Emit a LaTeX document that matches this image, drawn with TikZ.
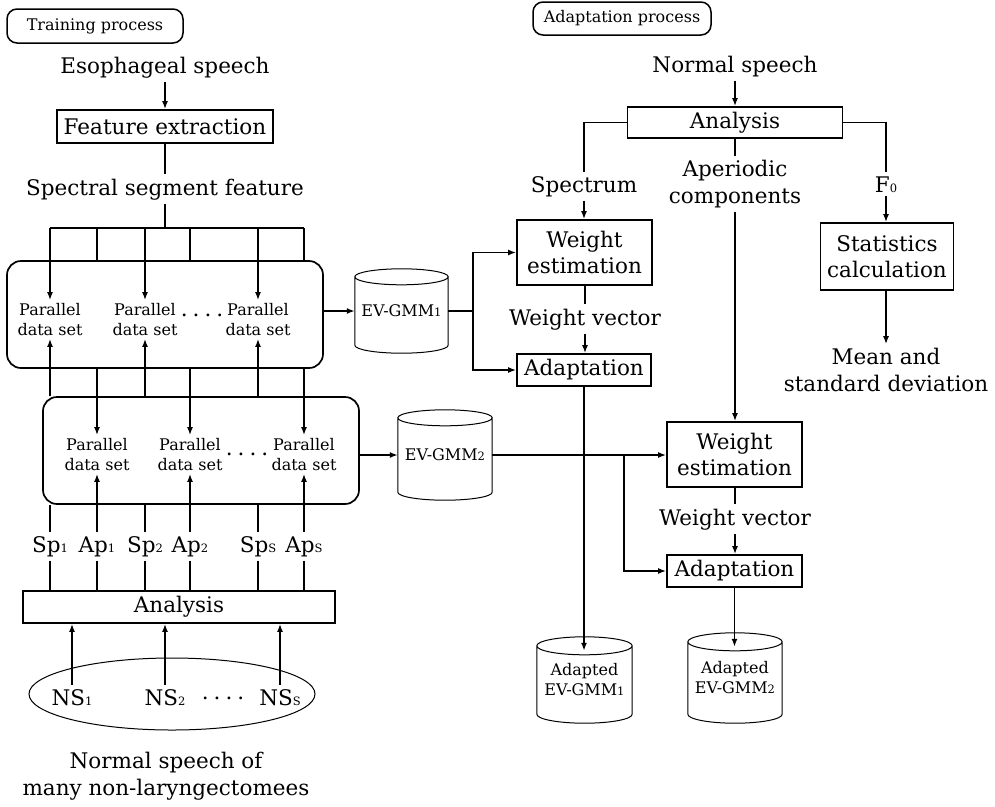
\documentclass[tikz,border=0pt]{standalone}
\usepackage{fontspec}
\setmainfont{DejaVu Serif}
\usetikzlibrary{arrows.meta,calc,shapes.geometric}
\newcommand\sbs[1]{{\fontsize{11.5}{11.5}\selectfont #1}}
\newcommand\bigf{\fontsize{21.5}{26.5}\selectfont}
\newcommand\smallf{\fontsize{16}{20}\selectfont}
\newcommand\drawcyl[2]{\draw[cyl] let \p1=(#1.north west), \p2=(#1.south east), \n1={(\x2-\x1)/2} in
  (\x1,\y1-#2) -- (\x1,\y2+#2) arc[start angle=180,end angle=360,x radius=\n1,y radius=#2] -- (\x2,\y1-#2)
  (\x1+\n1,\y1-#2) ellipse[x radius=\n1,y radius=#2];}
\begin{document}
\begin{tikzpicture}[x=1pt,y=1pt,
  box/.style={draw,line width=1.7pt,inner sep=0pt,font=\bigf,align=center},
  rbox/.style={draw,line width=1.7pt,rounded corners=14pt,inner sep=0pt},
  tag/.style={draw,line width=1.5pt,rounded corners=10pt,inner sep=0pt,font=\smallf},
  lbl/.style={inner xsep=2pt,inner ysep=4pt,font=\bigf,align=center},
  sml/.style={inner xsep=1pt,inner ysep=3pt,font=\smallf,align=center},
  cylnode/.style={inner sep=0pt,font=\smallf,align=center},
  cyl/.style={line width=1pt},
  ln/.style={line width=1.6pt},
  arr/.style={line width=1.6pt,-{Latex[length=8pt,width=6pt]}}
]
\useasboundingbox (0,0) rectangle (995,-806);

% ---------- Training side ----------
\node[tag,minimum width=176pt,minimum height=34pt] (tp) at (95,-26) {Training process};
\node[lbl,anchor=base] (es) at (165,-73) {Esophageal speech};
\node[box,minimum width=216pt,minimum height=33pt] (fe) at (165,-126.5) {Feature extraction};
\node[lbl,anchor=base] (ssf) at (165,-195) {Spectral segment feature};
\coordinate (bus) at (165,-228);

\node[rbox,minimum width=316pt,minimum height=107pt] (b1) at (165,-314.5) {};
\node[rbox,minimum width=316pt,minimum height=107pt] (b2) at (201,-450.5) {};

\node[sml] (p11) at (50,-319.5) {Parallel\\data set};
\node[sml] (p12) at (145,-319.5) {Parallel\\data set};
\node[sml] (p13) at (258,-319.5) {Parallel\\data set};
\node[sml] (p21) at (97,-454.5) {Parallel\\data set};
\node[sml] (p22) at (190,-454.5) {Parallel\\data set};
\node[sml] (p23) at (304,-454.5) {Parallel\\data set};
\node[inner sep=0pt,font=\bigf,anchor=base] (d1) at (202,-316) {.\hspace{5pt}.\hspace{5pt}.\hspace{5pt}.};
\node[inner sep=0pt,font=\bigf,anchor=base] (d2) at (247,-455) {.\hspace{5pt}.\hspace{5pt}.\hspace{5pt}.};

\node[lbl,anchor=base] (sp1) at (50,-552) {Sp\sbs{1}};
\node[lbl,anchor=base] (ap1) at (97,-552) {Ap\sbs{1}};
\node[lbl,anchor=base] (sp2) at (145,-552) {Sp\sbs{2}};
\node[lbl,anchor=base] (ap2) at (190,-552) {Ap\sbs{2}};
\node[lbl,anchor=base] (sps) at (258,-552) {Sp\sbs{S}};
\node[lbl,anchor=base] (aps) at (304,-552) {Ap\sbs{S}};

\node[box,minimum width=312pt,minimum height=32pt] (an) at (179,-607) {Analysis};
\node[ellipse,draw,line width=1pt,minimum width=286pt,minimum height=72pt,inner sep=0pt] (grp) at (172,-694) {};
\node[lbl,anchor=base] (ns1) at (72,-705) {NS\sbs{1}};
\node[lbl,anchor=base] (ns2) at (165,-705) {NS\sbs{2}};
\node[lbl,anchor=base] (nss) at (280,-705) {NS\sbs{S}};
\node[inner sep=0pt,font=\bigf,anchor=base] (d3) at (223,-705) {\raisebox{5.5pt}{.\hspace{5pt}.\hspace{5pt}.\hspace{5pt}.}};
\node[lbl] (nsm) at (166,-776) {Normal speech of\\many non-laryngectomees};

% ---------- Models ----------
\node[cylnode,minimum width=93pt,minimum height=84pt] (ev1) at (401.5,-311) {EV-GMM\sbs{1}};
\node[cylnode,minimum width=94pt,minimum height=90pt] (ev2) at (445,-455) {EV-GMM\sbs{2}};
\drawcyl{ev1}{8pt}
\drawcyl{ev2}{8pt}

% ---------- Adaptation side ----------
\node[tag,minimum width=178pt,minimum height=33pt] (apz) at (622,-18.5) {Adaptation process};
\node[lbl,anchor=base] (nsp) at (735,-72) {Normal speech};
\node[box,minimum width=215pt,minimum height=31pt] (ana2) at (735,-122.5) {Analysis};
\node[lbl,anchor=base] (spec) at (584,-192) {Spectrum};
\node[lbl] (ap) at (735,-184) {Aperiodic\\components};
\node[lbl,anchor=base] (f0) at (886,-192) {F\sbs{0}};

\node[box,minimum width=135pt,minimum height=65pt] (we1) at (584.5,-252.5) {Weight\\estimation};
\node[lbl,anchor=base] (wv1) at (585,-325) {Weight vector};
\node[box,minimum width=134pt,minimum height=32pt] (ad1) at (584,-370) {Adaptation};
\node[box,minimum width=133pt,minimum height=67pt] (st) at (887,-256.5) {Statistics\\calculation};
\node[lbl] (mean) at (886,-370) {Mean and\\standard deviation};

\node[box,minimum width=135pt,minimum height=65pt] (we2) at (734.5,-454.5) {Weight\\estimation};
\node[lbl,anchor=base] (wv2) at (735,-525) {Weight vector};
\node[box,minimum width=135pt,minimum height=32pt] (ad2) at (734.5,-571) {Adaptation};

\node[cylnode,minimum width=95pt,minimum height=86pt] (aev1) at (584.5,-680) {Adapted\\EV-GMM\sbs{1}};
\node[cylnode,minimum width=94pt,minimum height=90pt] (aev2) at (735,-678) {Adapted\\EV-GMM\sbs{2}};
\drawcyl{aev1}{9pt}
\drawcyl{aev2}{9pt}
\coordinate (t1) at ($(aev1.north)+(0,-14)$);
\coordinate (t2) at ($(aev2.north)+(0,-14)$);

% ---------- Connectors: training ----------
\draw[arr] (es.south) -- (fe.north);
\draw[ln] (fe.south) -- (ssf.north);
\draw[ln] (ssf.south) -- (bus);
\draw[ln] (bus -| p11) -- (bus -| p23);
\foreach \q in {p11,p12,p13} \draw[arr] (bus -| \q) -- (\q.north);
\foreach \q in {p21,p22,p23} {
  \draw[ln] (bus -| \q) -- (\q |- b1.north);
  \draw[arr] (\q |- b1.south) -- (\q.north);
}
\foreach \q in {p11,p12,p13} \draw[arr] (\q |- b2.north) -- (\q.south);
\foreach \q in {sp1,sp2,sps} \draw[ln] (\q.north) -- (\q |- b2.south);
\foreach \qa/\qb in {ap1/p21,ap2/p22,aps/p23} \draw[arr] (\qa.north) -- (\qb.south);
\foreach \q in {sp1,ap1,sp2,ap2,sps,aps} \draw[ln] (\q.south) -- (\q |- an.north);
\foreach \q in {ns1,ns2,nss} \draw[arr] (\q.north) -- (\q |- an.south);

% ---------- Connectors: models ----------
\draw[arr] (b1.east |- ev1.west) -- (ev1.west);
\coordinate (j1) at (473,-311);
\draw[ln] (ev1.east) -- (j1);
\draw[arr] (j1) |- (we1.west);
\draw[arr] (j1) |- (ad1.west);
\draw[arr] (b2.east |- ev2.west) -- (ev2.west);
\draw[arr] (ev2.east) -- (ev2.east -| we2.west);
\coordinate (j2) at (624,-455);
\draw[arr] (j2) |- (ad2.west);

% ---------- Connectors: adaptation ----------
\draw[arr] (nsp.south) -- (nsp.south |- ana2.north);
\draw[ln] (ana2.west) -| (spec.north);
\draw[arr] (spec.south) -- (spec.south |- we1.north);
\draw[ln] (ap.north |- ana2.south) -- (ap.north);
\draw[arr] (ap.south) -- (ap.south |- we2.north);
\draw[ln] (ana2.east) -| (f0.north);
\draw[arr] (f0.south) -- (f0.south |- st.north);
\draw[arr] (mean.north |- st.south) -- (mean.north);
\draw[ln] (wv1.north |- we1.south) -- (wv1.north);
\draw[arr] (wv1.south) -- (wv1.south |- ad1.north);
\draw[arr] (ad1.south) -- (ad1.south |- t1);
\draw[ln] (wv2.north |- we2.south) -- (wv2.north);
\draw[arr] (wv2.south) -- (wv2.south |- ad2.north);
\draw[arr] (ad2.south) -- (ad2.south |- t2);
\end{tikzpicture}
\end{document}
